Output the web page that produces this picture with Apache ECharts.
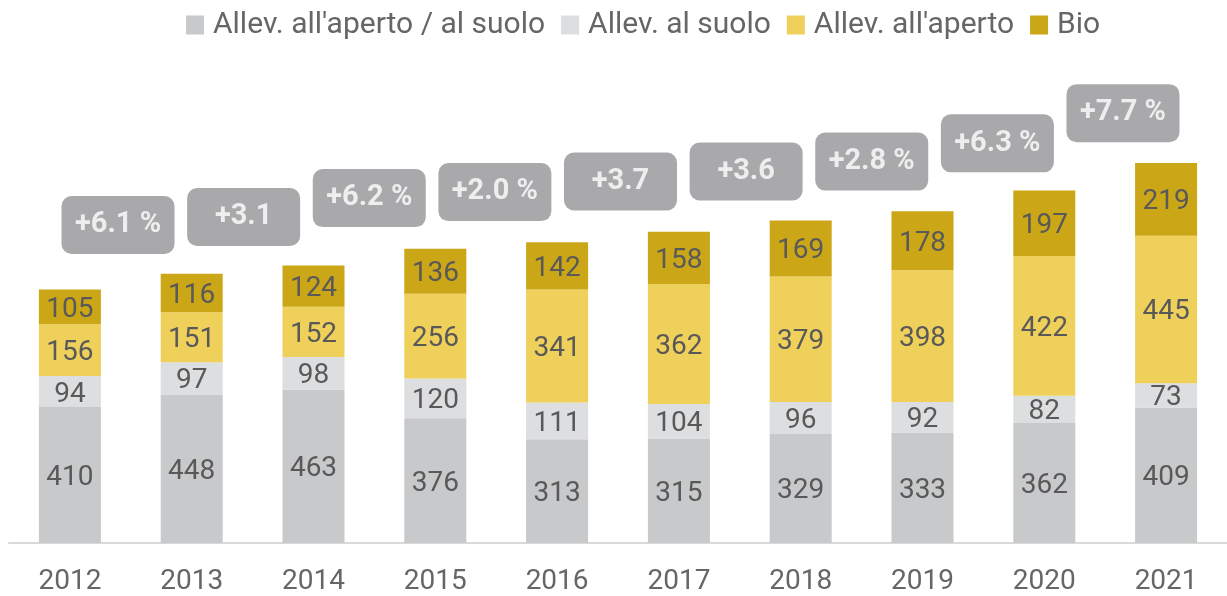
<!DOCTYPE html>
<html>
<head>
<meta charset="utf-8">
<script src="https://cdn.jsdelivr.net/npm/echarts@6/dist/echarts.min.js"></script>
<style>
html,body{margin:0;padding:0;background:#fff;}
#main{width:1227px;height:596px;}
</style>
</head>
<body>
<div id="main"></div>
<script>
const years = ['2012','2013','2014','2015','2016','2017','2018','2019','2020','2021'];
const seriesNames = ["Allev. all'aperto / al suolo", 'Allev. al suolo', "Allev. all'aperto", 'Bio'];
const apertoSuolo = [410, 448, 463, 376, 313, 315, 329, 333, 362, 409];
const alSuolo = [94, 97, 98, 120, 111, 104, 96, 92, 82, 73];
const allAperto = [156, 151, 152, 256, 341, 362, 379, 398, 422, 445];
const bio = [105, 116, 124, 136, 142, 158, 169, 178, 197, 219];
const growthLabels = ['+6.1 %', '+3.1', '+6.2 %', '+2.0 %', '+3.7', '+3.6', '+2.8 %', '+6.3 %', '+7.7 %'];
const growthBoxLevel = [960, 984, 1041, 1059, 1091, 1121, 1151, 1206, 1297];
const growthSlots = ['12-13','13-14','14-15','15-16','16-17','17-18','18-19','19-20','20-21'];

const colors = ['#c8c9cb', '#dddee0', '#eed05b', '#cba617'];
const seriesData = [apertoSuolo, alSuolo, allAperto, bio];
const font = 'Roboto, "Noto Sans", sans-serif';

const chart = echarts.init(document.getElementById('main'));
const barSeries = seriesNames.map((n, i) => ({
  name: n,
  type: 'bar',
  stack: 'total',
  xAxisIndex: 0,
  yAxisIndex: 0,
  barWidth: 62,
  data: seriesData[i],
  itemStyle: { color: colors[i] },
  label: {
    show: true,
    position: 'inside',
    offset: [0, 3],
    color: '#595959',
    fontSize: 28,
    fontFamily: font
  }
}));

chart.setOption({
  animation: false,
  backgroundColor: '#ffffff',
  color: colors,
  legend: {
    data: seriesNames,
    left: 181,
    top: 5,
    itemWidth: 18,
    itemHeight: 19,
    itemGap: 16,
    icon: 'rect',
    textStyle: { color: '#666666', fontSize: 30, fontFamily: font, padding: [0, 0, 0, 4] }
  },
  grid: [
    { left: 9, width: 1224, top: 12.6, bottom: 52.5 },
    { left: 55.2, width: 1130.6, top: 12.6, bottom: 52.5 }
  ],
  xAxis: [
    {
      type: 'category',
      gridIndex: 0,
      data: years,
      axisTick: { show: false },
      axisLine: { show: true, lineStyle: { color: '#d9d9d9', width: 2 } },
      axisLabel: { color: '#666666', fontSize: 28, fontFamily: font, margin: 25 }
    },
    {
      type: 'category',
      gridIndex: 1,
      data: growthSlots,
      show: false
    }
  ],
  yAxis: [
    { type: 'value', gridIndex: 0, min: 0, max: 1600, show: false },
    { type: 'value', gridIndex: 1, min: 0, max: 1600, show: false }
  ],
  series: barSeries.concat([{
    name: 'growth',
    type: 'scatter',
    xAxisIndex: 1,
    yAxisIndex: 1,
    symbolSize: 1,
    itemStyle: { color: 'rgba(0,0,0,0)' },
    data: growthBoxLevel,
    z: 10,
    label: {
      show: true,
      position: 'inside',
      formatter: p => growthLabels[p.dataIndex],
      backgroundColor: '#939497',
      borderRadius: 10,
      width: 113,
      height: 58,
      lineHeight: 58,
      align: 'center',
      verticalAlign: 'middle',
      padding: 0,
      color: '#ffffff',
      fontWeight: 'bold',
      fontSize: 29,
      fontFamily: font
    }
  }])
});
</script>
</body>
</html>
